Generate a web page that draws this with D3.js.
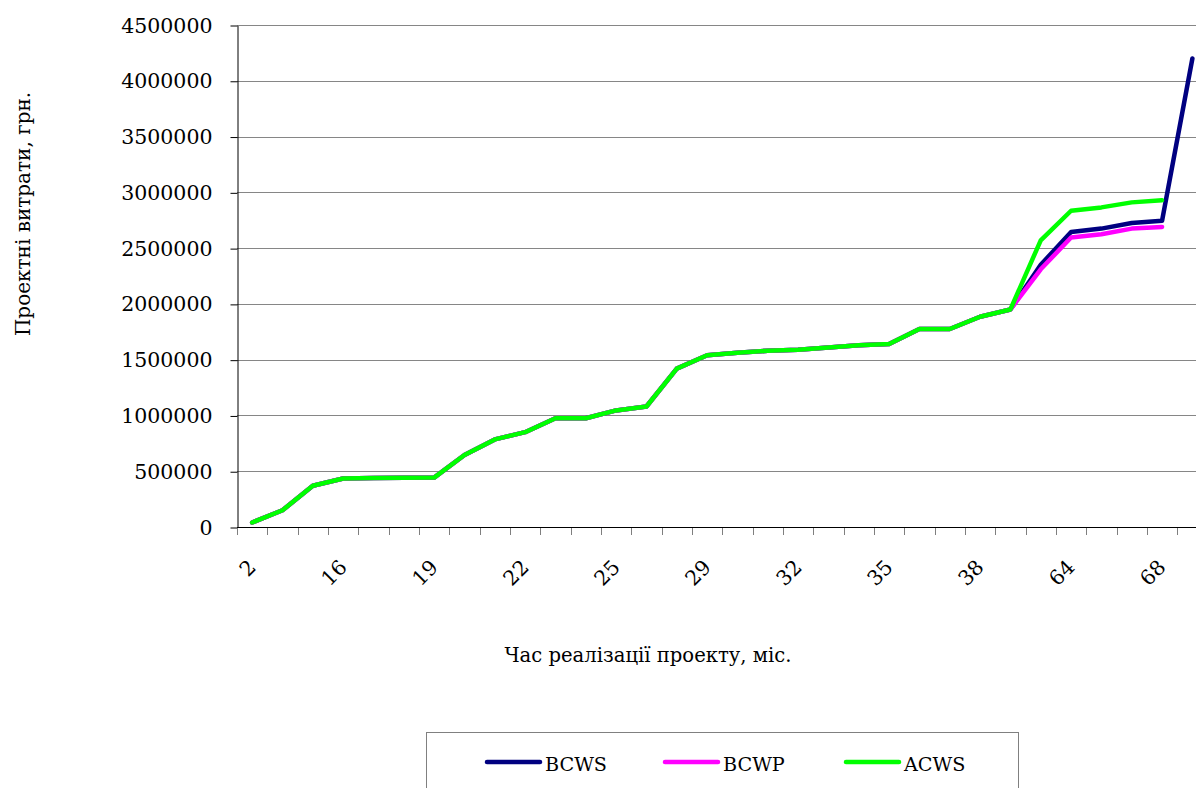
<!DOCTYPE html>
<html>
<head>
<meta charset="utf-8">
<script src="https://cdn.jsdelivr.net/npm/d3@7"></script>
<style>
  html, body { margin: 0; padding: 0; background: #ffffff; }
  svg { display: block; }
  text { font-family: "DejaVu Serif", serif; fill: #000; }
</style>
</head>
<body>
<svg id="chart" width="1196" height="788"></svg>
<script>
// Category labels along the time axis (only every third one is printed)
const tickLabels = ["2", "", "", "16", "", "", "19", "", "", "22", "", "", "25", "", "", "29",
                    "", "", "32", "", "", "35", "", "", "38", "", "", "64", "", "", "68", ""];

// Cumulative project costs, UAH
const bcws = [40000, 150000, 370000, 435000, 440000, 442000, 443000, 645000, 785000, 850000,
              975000, 975000, 1045000, 1080000, 1420000, 1540000, 1562000, 1580000, 1588000, 1610000,
              1630000, 1640000, 1775000, 1775000, 1885000, 1950000, 2350000, 2645000, 2675000, 2725000,
              2745000, 4200000];
const bcwp = [40000, 150000, 370000, 435000, 440000, 442000, 443000, 645000, 785000, 850000,
              975000, 975000, 1045000, 1080000, 1420000, 1540000, 1562000, 1580000, 1588000, 1610000,
              1630000, 1640000, 1775000, 1775000, 1885000, 1950000, 2310000, 2595000, 2625000, 2675000,
              2690000];
const acws = [40000, 150000, 370000, 435000, 440000, 442000, 443000, 645000, 785000, 850000,
              975000, 975000, 1045000, 1080000, 1420000, 1540000, 1562000, 1580000, 1588000, 1610000,
              1630000, 1640000, 1775000, 1775000, 1885000, 1950000, 2570000, 2835000, 2865000, 2910000,
              2930000];

const yTicks = [0, 500000, 1000000, 1500000, 2000000, 2500000, 3000000, 3500000, 4000000, 4500000];

const seriesNames = ["BCWS", "BCWP", "ACWS"];
const seriesColors = ["#000080", "#ff00ff", "#00ff00"];
const seriesValues = [bcws, bcwp, acws];

const W = 1196, H = 788;
const plotLeft = 237, plotTop = 25, plotBottom = 527, step = 30.33;

const svg = d3.select("#chart");
svg.append("rect").attr("width", W).attr("height", H).attr("fill", "#fff");

const x = d3.scaleBand()
  .domain(d3.range(tickLabels.length))
  .range([plotLeft, plotLeft + step * tickLabels.length])
  .padding(0);

const y = d3.scaleLinear().domain([0, 4500000]).range([plotBottom, plotTop]);

// horizontal gridlines
svg.append("g")
  .selectAll("line")
  .data(yTicks.filter(d => d > 0))
  .join("line")
  .attr("x1", plotLeft).attr("x2", W)
  .attr("y1", d => Math.round(y(d)) + 0.5).attr("y2", d => Math.round(y(d)) + 0.5)
  .attr("stroke", "#868686").attr("stroke-width", 1);

// y axis
const yAxis = svg.append("g")
  .attr("transform", `translate(${plotLeft + 0.5},0.5)`)
  .call(d3.axisLeft(y).tickValues(yTicks).tickFormat(d3.format("d")).tickSize(7).tickPadding(18).tickSizeOuter(0));
yAxis.select(".domain").attr("stroke", "#000");
yAxis.selectAll(".tick line").attr("stroke", "#000");
yAxis.selectAll(".tick text").attr("font-size", "20.5px").attr("font-family", "DejaVu Serif");

// x axis: category boundary ticks
svg.append("g")
  .selectAll("line")
  .data(d3.range(tickLabels.length + 1))
  .join("line")
  .attr("x1", i => Math.round(plotLeft + i * x.step()) + 0.5)
  .attr("x2", i => Math.round(plotLeft + i * x.step()) + 0.5)
  .attr("y1", plotBottom).attr("y2", plotBottom + 8)
  .attr("stroke", "#7f7f7f").attr("stroke-width", 1);

const xAxis = svg.append("g")
  .attr("transform", `translate(0,${plotBottom + 0.5})`)
  .call(d3.axisBottom(x).tickSize(0).tickFormat(i => tickLabels[i]).tickSizeOuter(0));
xAxis.select(".domain").attr("stroke", "#000").attr("d", `M${plotLeft},0H${W}`);
xAxis.selectAll(".tick text")
  .attr("font-size", "20.5px")
  .attr("font-family", "DejaVu Serif")
  .attr("text-anchor", "end")
  .attr("x", 0).attr("y", 0).attr("dy", 0)
  .attr("transform", "translate(5,41) rotate(-45)");

// series lines
const line = d3.line()
  .x((d, i) => x(i) + x.bandwidth() / 2)
  .y(d => y(d));

svg.append("g")
  .selectAll("path")
  .data(seriesValues)
  .join("path")
  .attr("d", d => line(d))
  .attr("fill", "none")
  .attr("stroke", (d, i) => seriesColors[i])
  .attr("stroke-width", 4.5)
  .attr("stroke-linejoin", "round")
  .attr("stroke-linecap", "round");

// axis titles
svg.append("text")
  .attr("transform", "translate(30,214) rotate(-90)")
  .attr("text-anchor", "middle")
  .attr("font-size", "20px")
  .text("Проектні витрати, грн.");

svg.append("text")
  .attr("x", 648).attr("y", 662)
  .attr("text-anchor", "middle")
  .attr("font-size", "19.6px")
  .text("Час реалізації проекту, міс.");

// legend
const legend = svg.append("g");
legend.append("rect")
  .attr("x", 426.5).attr("y", 732.5)
  .attr("width", 592).attr("height", 80)
  .attr("fill", "#fff").attr("stroke", "#808080").attr("stroke-width", 1);

const legendX = [487, 665, 846];
const items = legend.selectAll("g.item")
  .data(seriesNames)
  .join("g")
  .attr("class", "item")
  .attr("transform", (d, i) => `translate(${legendX[i]},762)`);
items.append("line")
  .attr("x1", 0).attr("x2", 53).attr("y1", 0).attr("y2", 0)
  .attr("stroke", (d, i) => seriesColors[i])
  .attr("stroke-width", 4.5)
  .attr("stroke-linecap", "round");
items.append("text")
  .attr("x", 58).attr("y", 8.5)
  .attr("font-size", "19.2px")
  .text(d => d);
</script>
</body>
</html>
